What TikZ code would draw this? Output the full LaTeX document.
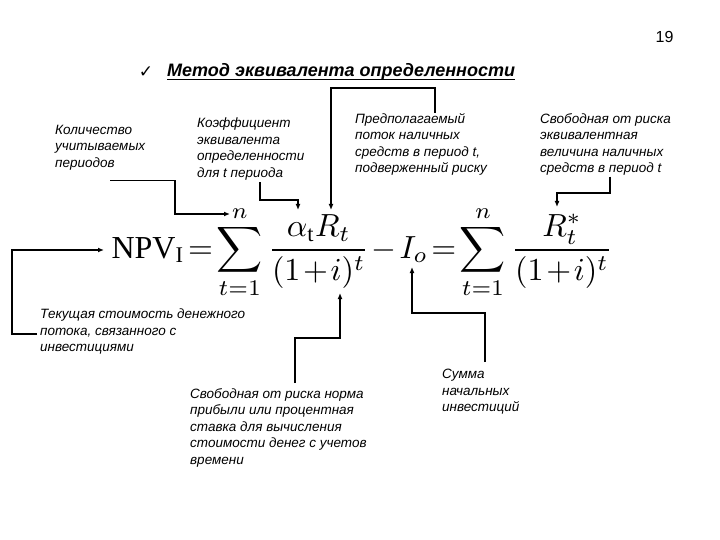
\documentclass[tikz,border=0pt]{standalone}
\usepackage{fontspec}
\setmainfont{Liberation Serif}
\setsansfont{Liberation Sans}
\newfontfamily\checkfont{DejaVu Sans}
\usetikzlibrary{arrows.meta,positioning}

\begin{document}
\begin{tikzpicture}[x=1pt,y=-1pt,
    note/.style={anchor=north west,align=left,inner sep=0pt,
        font=\sffamily\itshape\fontsize{13.5}{16.5}\selectfont},
    pointer/.style={line width=1.5pt,-{Latex[length=6pt,width=5pt]}}]
\useasboundingbox (0,0) rectangle (720,540);
\node[anchor=east,font=\sffamily\fontsize{16}{18}\selectfont] (pagenum) at (677,37) {19};
\node[font=\checkfont\fontsize{17}{19}\selectfont] (tick) at (146,72) {✓};
\node[anchor=west,inner sep=0pt,font=\sffamily\bfseries\itshape\fontsize{18}{21}\selectfont]
    (title) at (167,72) {Метод эквивалента определенности};
\draw[line width=1.1pt] ([yshift=-2.5pt]title.base west) -- ([yshift=-2.5pt]title.base east);
\node[scale=3.2,transform shape,inner sep=0pt] (npv) at (362,252)
    {$\thickmuskip=2mu\medmuskip=1.5mu
     \mathrm{NPV}_{\mathrm{I}} = \displaystyle\sum_{t=1}^{n}\frac{\alpha_{\mathrm{t}}R_t}{(1+i)^t} - I_o
     = \sum_{t=1}^{n}\frac{R_t^{*}}{(1+i)^t}$};
\coordinate (nTop) at (230,214);
\coordinate (alphaTop) at (298,210);
\coordinate (rTop) at (331,210);
\coordinate (rStarTop) at (557,207);
\coordinate (npvLeft) at (104,250);
\coordinate (iBottom) at (340,293);
\coordinate (ioBottom) at (412,267);
\node[note] (periods) at (55,125) {Количество\\учитываемых\\периодов};
\node[note] (coef) at (197,118) {Коэффициент\\эквивалента\\определенности\\для t периода};
\node[note] (flow) at (355,113) {Предполагаемый\\поток наличных\\средств в период t,\\подверженный риску};
\node[note] (equiv) at (540,113) {Свободная от риска\\эквивалентная\\величина наличных\\средств в период t};
\node[note] (present) at (40,309) {Текущая стоимость денежного\\потока, связанного с\\инвестициями};
\node[note] (rate) at (190,388) {Свободная от риска норма\\прибыли или процентная\\ставка для вычисления\\стоимости денег с учетов\\времени};
\node[note] (invest) at (442,369) {Сумма\\начальных\\инвестиций};
\draw[pointer] ([shift={(55,10)}]periods.south west) -| ([xshift=-55pt]nTop) -- (nTop);
\draw[pointer] ([shift={(63,2)}]coef.south west) |- ([yshift=10pt]alphaTop) -- (alphaTop);
\draw[pointer] ([xshift=80pt]flow.north west) -- ++(0,-25) -| (rTop);
\draw[pointer] ([shift={(70,1)}]equiv.south west) |- ([yshift=14pt]rStarTop) -- (rStarTop);
\draw[pointer] ([shift={(-3,25)}]present.north west) -| ([xshift=-92pt]npvLeft) -- (npvLeft);
\draw[pointer] ([shift={(105,-5)}]rate.north west) |- ([yshift=-45pt]iBottom) -- (iBottom);
\draw[pointer] ([shift={(43,-7)}]invest.north west) |- ([yshift=-46pt]ioBottom) -- (ioBottom);
\end{tikzpicture}
\end{document}
